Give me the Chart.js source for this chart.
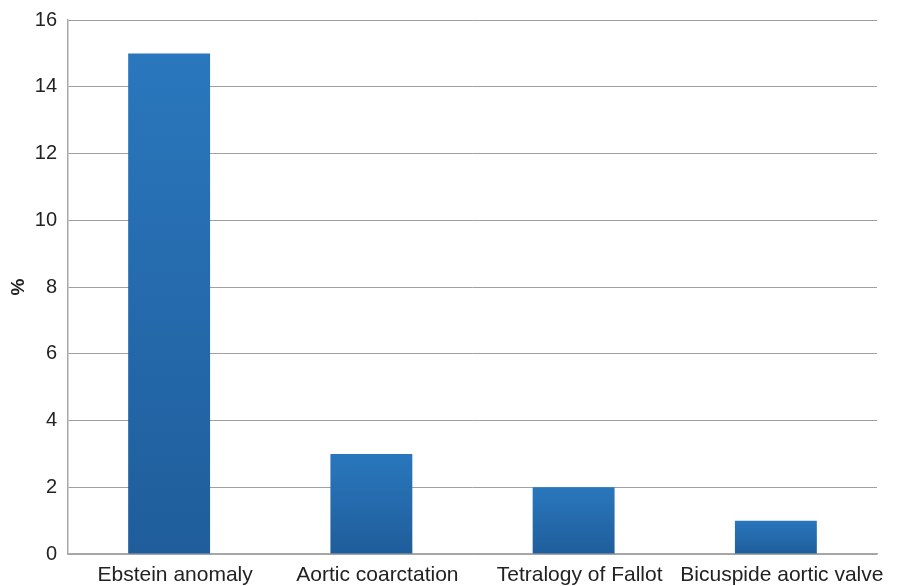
<!DOCTYPE html>
<html>
<head>
<meta charset="utf-8">
<script src="https://cdn.jsdelivr.net/npm/chart.js@4/dist/chart.umd.min.js"></script>
<style>
  html, body { margin: 0; padding: 0; background: #ffffff; }
  #wrap { width: 897px; height: 586px; position: relative; }
</style>
</head>
<body>
<div id="wrap"><canvas id="c" width="897" height="586"></canvas></div>
<script>
// Congenital defects and their share (%)
const categories = ['Ebstein anomaly', 'Aortic coarctation', 'Tetralogy of Fallot', 'Bicuspide aortic valve'];
const percentValues = [15, 3, 2, 1];
const yTicks = [0, 2, 4, 6, 8, 10, 12, 14, 16];

const FONT = "'Liberation Sans', Arial, Helvetica, sans-serif";

// Vertical gradient per bar: lighter blue at the top, deeper blue at the base
function barGradient(ctx) {
  const chart = ctx.chart;
  if (!chart.chartArea || ctx.type !== 'data') return '#2873b8';
  const ys = chart.scales.y;
  const top = ys.getPixelForValue(ctx.raw);
  const base = ys.getPixelForValue(0);
  const g = chart.ctx.createLinearGradient(0, top, 0, base);
  g.addColorStop(0, '#2a77bd');
  g.addColorStop(1, '#1f5d9b');
  return g;
}

new Chart(document.getElementById('c'), {
  type: 'bar',
  data: {
    labels: categories,
    datasets: [{
      data: percentValues,
      backgroundColor: barGradient,
      borderWidth: 0,
      categoryPercentage: 1,
      barPercentage: 0.405
    }]
  },
  options: {
    responsive: false,
    animation: false,
    devicePixelRatio: 1,
    layout: { padding: { left: 0, right: 20, top: 20, bottom: 0 } },
    plugins: { legend: { display: false }, tooltip: { enabled: false } },
    scales: {
      x: {
        grid: { display: false, drawTicks: false },
        border: { display: true, color: '#a8a8a8', width: 1.5 },
        ticks: {
          color: '#222222',
          font: { family: FONT, size: 21 },
          padding: 9,
          labelOffset: 6,
          maxRotation: 0,
          autoSkip: false
        },
        afterFit: (s) => { s.height = 32; s.paddingLeft = 0; s.paddingRight = 0; }
      },
      y: {
        min: 0,
        max: 16,
        afterBuildTicks: (s) => { s.ticks = yTicks.map(v => ({ value: v })); },
        grid: { color: '#a0a0a0', lineWidth: 1, drawTicks: false },
        border: { display: true, color: '#a8a8a8', width: 1.5 },
        ticks: {
          color: '#222222',
          font: { family: FONT, size: 20 },
          padding: 11
        },
        title: {
          display: true,
          text: '%',
          color: '#222222',
          font: { family: FONT, size: 19, weight: 'bold' },
          padding: { top: 7, bottom: 0 }
        },
        afterFit: (s) => { s.width = 68; s.paddingTop = 0; s.paddingBottom = 0; }
      }
    }
  }
});
</script>
</body>
</html>
